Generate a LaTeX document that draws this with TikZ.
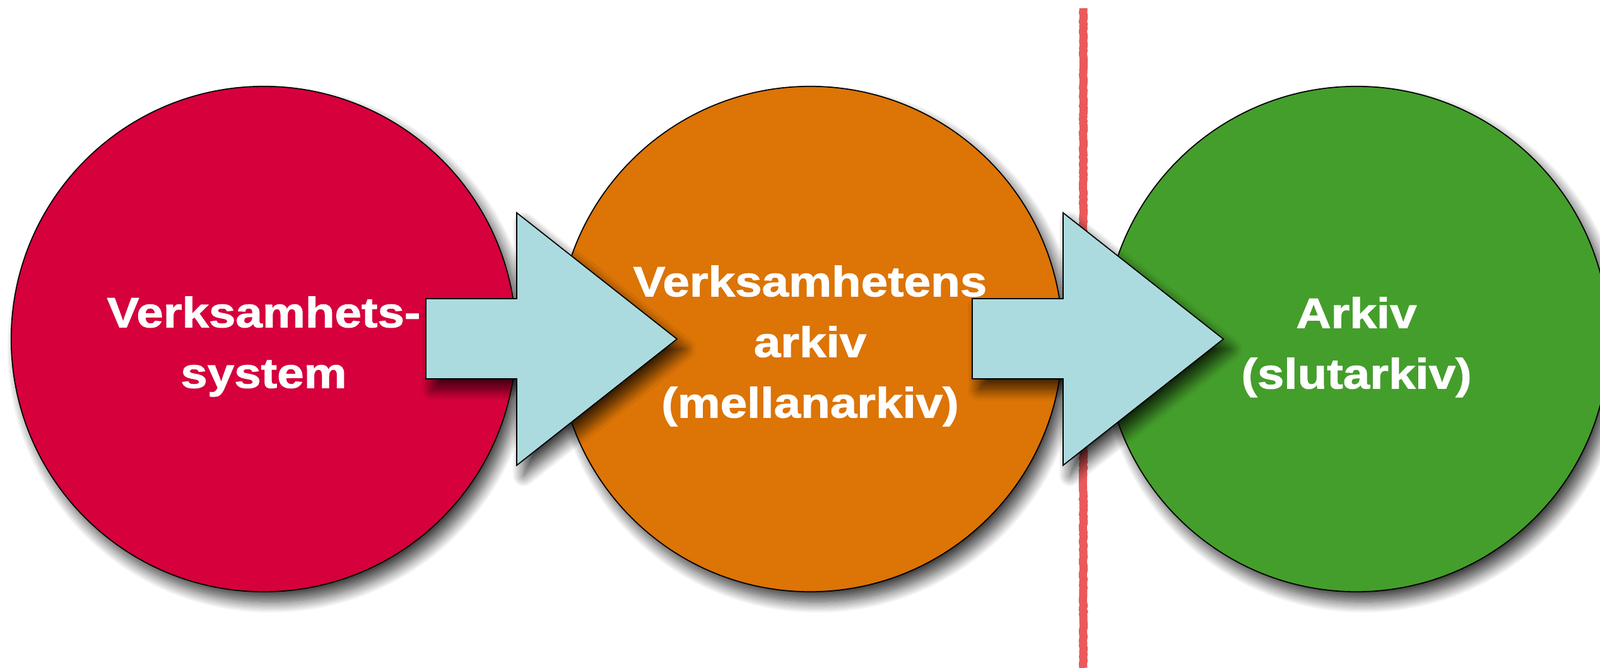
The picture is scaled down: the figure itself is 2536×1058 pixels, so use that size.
\documentclass[tikz,border=0pt]{standalone}
\usepackage{fontspec}
\setmainfont{Liberation Sans}
\newfontfamily\rubrikfont[FakeStretch=1.14,FakeBold=1.5]{Liberation Sans}
\usepackage{tikz}
\usetikzlibrary{calc,shadows.blur}
\usetikzlibrary{decorations.pathmorphing}

\definecolor{verksred}{RGB}{213,0,60}
\definecolor{mellanorange}{RGB}{220,116,6}
\definecolor{slutgreen}{RGB}{68,158,43}
\definecolor{pilblue}{RGB}{172,219,223}
\definecolor{gransred}{RGB}{234,90,90}

\tikzset{
  skugga/.style={blur shadow={shadow xshift=0.11cm, shadow yshift=-0.16cm,
      shadow blur radius=0.18cm, shadow blur steps=20, shadow opacity=75}},
  disc/.style={circle, draw=black, line width=0.5pt, minimum size=8cm,
      inner sep=0pt, skugga},
  rubrik/.style={text=white, align=center, anchor=north, inner sep=0pt,
      font=\rubrikfont\fontsize{19.06pt}{27.3pt}\selectfont\bfseries},
  flodespil/.style={fill=pilblue, draw=black, line width=0.5pt, skugga},
  granslinje/.style={draw=gransred, line width=0.13cm,
      decorate, decoration={random steps, segment length=1pt, amplitude=0.2pt}}
}

\begin{document}
\begin{tikzpicture}[x=0.01cm,y=-0.01cm]
  \useasboundingbox (0,0) rectangle (2536,1058);

  % gränsen mellan mellanarkiv och slutarkiv
  \draw[granslinje] (1717,13) -- (1717,1058);

  % de tre stegen
  \node[disc, fill=verksred] (verks) at (418,537) {};
  \node[disc, fill=mellanorange] (mellan) at (1284,537) {};
  \node[disc, fill=slutgreen] (slut) at (2150,537) {};

  % pilarna
  \foreach \fran/\till in {verks/mellan, mellan/slut} {
    \coordinate (m) at ($(\fran.center)!0.5!(\till.center)$);
    \draw[flodespil] ($(m)+(-176,-64)$) -- ($(m)+(-32,-64)$) -- ($(m)+(-32,-200)$)
      -- ($(m)+(222,0)$) -- ($(m)+(-32,200)$) -- ($(m)+(-32,63)$)
      -- ($(m)+(-176,63)$) -- cycle;
  }

  % texterna
  \node[rubrik] (verkstext) at (418,469) {Verksamhets-\\system};
  \node[rubrik] (mellantext) at (1284,420) {Verksamhetens\\arkiv\\(mellanarkiv)};
  \node[rubrik] (sluttext) at (2150,470) {Arkiv\\(slutarkiv)};
\end{tikzpicture}
\end{document}
